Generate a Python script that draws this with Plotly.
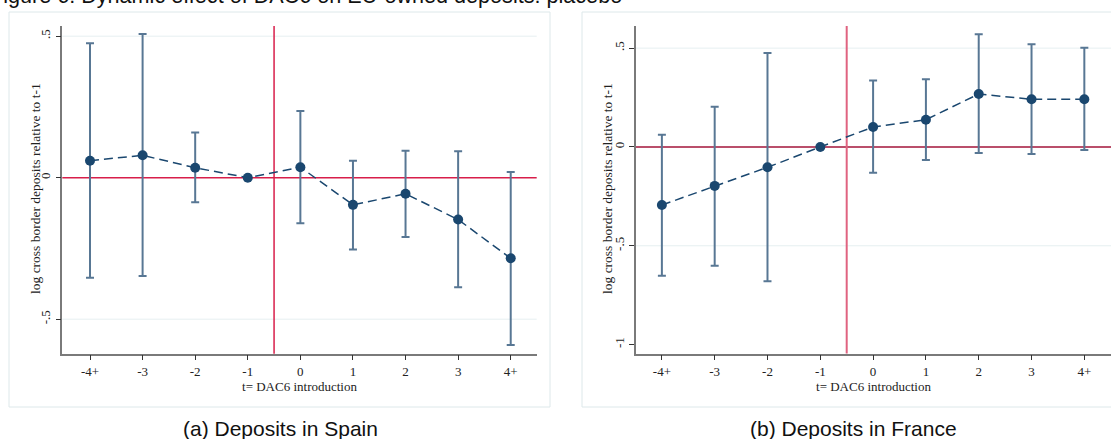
import plotly.graph_objects as go

# ---------------- data ----------------
periods = ["-4+", "-3", "-2", "-1", "0", "1", "2", "3", "4+"]

spain_coef = [0.060, 0.079, 0.035, 0.0, 0.037, -0.096, -0.057, -0.148, -0.285]
spain_upper = [0.475, 0.508, 0.160, None, 0.236, 0.060, 0.095, 0.093, 0.020]
spain_lower = [-0.354, -0.347, -0.087, None, -0.161, -0.254, -0.210, -0.387, -0.591]

france_coef = [-0.294, -0.197, -0.103, 0.0, 0.101, 0.138, 0.268, 0.241, 0.241]
france_upper = [0.062, 0.204, 0.476, None, 0.336, 0.343, 0.570, 0.520, 0.502]
france_lower = [-0.651, -0.601, -0.680, None, -0.130, -0.066, -0.030, -0.035, -0.015]

spain_yticks = [0.5, 0.0, -0.5]
spain_yticktext = [".5", "0", "-.5"]
france_yticks = [0.5, 0.0, -0.5, -1.0]
france_yticktext = [".5", "0", "-.5", "-1"]

event_line = 3.5  # between -1 and 0

title_text = "Figure 6: Dynamic effect of DAC6 on EU-owned deposits: placebo"
caption_a = "(a) Deposits in Spain"
caption_b = "(b) Deposits in France"
y_title = "log cross border deposits relative to t-1"
x_title = "t= DAC6 introduction"

# ---------------- styling ----------------
W, H = 1111, 439
NAVY = "#1a476f"
BAR = "#587794"
RED_L = "#d81e4a"
RED_V_R = "#e06380"
RED_H_R = "#a3153a"
GRID = "#e6eff1"
SERIF = "Liberation Serif, Times New Roman, serif"
SANS = "Liberation Sans, Arial, Helvetica, sans-serif"

xpos = list(range(len(periods)))


def err(coef, up, lo):
    plus = [None if u is None else u - c for c, u in zip(coef, up)]
    minus = [None if l is None else c - l for c, l in zip(coef, lo)]
    return plus, minus


fig = go.Figure()

panels = [
    dict(coef=spain_coef, up=spain_upper, lo=spain_lower, xa="x", ya="y"),
    dict(coef=france_coef, up=france_upper, lo=france_lower, xa="x2", ya="y2"),
]

for p in panels:
    plus, minus = err(p["coef"], p["up"], p["lo"])
    fig.add_trace(go.Scatter(
        x=xpos, y=p["coef"], mode="markers",
        marker=dict(size=1, color="rgba(0,0,0,0)"),
        error_y=dict(type="data", symmetric=False, array=plus, arrayminus=minus,
                     color=BAR, thickness=2, width=4),
        xaxis=p["xa"], yaxis=p["ya"], showlegend=False, hoverinfo="skip"))
    fig.add_trace(go.Scatter(
        x=xpos, y=p["coef"], mode="lines+markers",
        line=dict(color=NAVY, width=1.5, dash="9px,5px"),
        marker=dict(size=10, color=NAVY),
        xaxis=p["xa"], yaxis=p["ya"], showlegend=False))


def px_x(v):
    return v / W


def px_y(v):
    return 1 - v / H


axis_common = dict(
    showline=True, linecolor="#7a7a7a", linewidth=1.5,
    ticks="outside", ticklen=5, tickcolor="#333", tickwidth=1,
    tickfont=dict(family=SERIF, size=13, color="#222"),
    showgrid=False, zeroline=False, mirror=False,
)

fig.update_layout(
    width=W, height=H, margin=dict(l=0, r=0, t=0, b=0),
    paper_bgcolor="white", plot_bgcolor="white",
    xaxis=dict(domain=[px_x(62.3), px_x(536.7)], range=[-0.527, 8.494],
               tickvals=xpos, ticktext=periods, anchor="y",
               title=dict(text=x_title, font=dict(family=SERIF, size=13, color="#222"), standoff=0),
               **axis_common),
    yaxis=dict(domain=[px_y(353.7), px_y(26)], range=[-0.622, 0.536],
               tickvals=spain_yticks, ticktext=spain_yticktext, tickangle=-90, anchor="x",
               **axis_common),
    xaxis2=dict(domain=[px_x(636), 1.0], range=[-0.49, 8.505],
                tickvals=xpos, ticktext=periods, anchor="y2",
                title=dict(text=x_title, font=dict(family=SERIF, size=13, color="#222"), standoff=0),
                **axis_common),
    yaxis2=dict(domain=[px_y(353.5), px_y(26)], range=[-1.045, 0.612],
                tickvals=france_yticks, ticktext=france_yticktext, tickangle=-90, anchor="x2",
                **axis_common),
)

# panel frames
fig.add_shape(type="rect", xref="paper", yref="paper",
              x0=px_x(9), x1=px_x(550), y0=px_y(407), y1=px_y(12),
              line=dict(color="#dde8ea", width=1), fillcolor="white", layer="below")
fig.add_shape(type="rect", xref="paper", yref="paper",
              x0=px_x(582), x1=px_x(1115), y0=px_y(407), y1=px_y(12),
              line=dict(color="#dde8ea", width=1), fillcolor="white", layer="below")

# grid lines
for v in [0.5, -0.5]:
    fig.add_shape(type="line", xref="x domain", yref="y", x0=0, x1=1, y0=v, y1=v,
                  line=dict(color=GRID, width=1), layer="below")
    fig.add_shape(type="line", xref="x2 domain", yref="y2", x0=0, x1=1, y0=v, y1=v,
                  line=dict(color=GRID, width=1), layer="below")

# reference lines
fig.add_shape(type="line", xref="x domain", yref="y", x0=0, x1=1, y0=0, y1=0,
              line=dict(color=RED_L, width=1.5), layer="below")
fig.add_shape(type="line", xref="x", yref="y domain", x0=event_line, x1=event_line, y0=0, y1=1,
              line=dict(color=RED_L, width=1.5), layer="below")
fig.add_shape(type="line", xref="x2 domain", yref="y2", x0=0, x1=1, y0=0, y1=0,
              line=dict(color=RED_H_R, width=1.5), layer="below")
fig.add_shape(type="line", xref="x2", yref="y2 domain", x0=event_line, x1=event_line, y0=0, y1=1,
              line=dict(color=RED_V_R, width=2), layer="below")

# y-axis titles (rotated)
for xc in (35, 607):
    fig.add_annotation(text=y_title, xref="paper", yref="paper", x=px_x(xc), y=px_y(189),
                       xanchor="center", yanchor="middle", textangle=-90, showarrow=False,
                       font=dict(family=SERIF, size=13.5, color="#222"))

# title (cut off at page edge like the reference)
fig.add_annotation(text=title_text, xref="paper", yref="paper", x=px_x(-12), y=px_y(10),
                   xanchor="left", yanchor="bottom", showarrow=False,
                   font=dict(family=SANS, size=21.6, color="#111"))
fig.add_annotation(text=caption_a, xref="paper", yref="paper", x=px_x(280), y=px_y(428),
                   xanchor="center", yanchor="middle", showarrow=False,
                   font=dict(family=SANS, size=21, color="#111"))
fig.add_annotation(text=caption_b, xref="paper", yref="paper", x=px_x(853), y=px_y(428),
                   xanchor="center", yanchor="middle", showarrow=False,
                   font=dict(family=SANS, size=21, color="#111"))

fig.write_html(
    "out.html",
    config={"displayModeBar": False},
    post_script="document.body.style.margin='0';document.body.style.overflow='hidden';",
)
